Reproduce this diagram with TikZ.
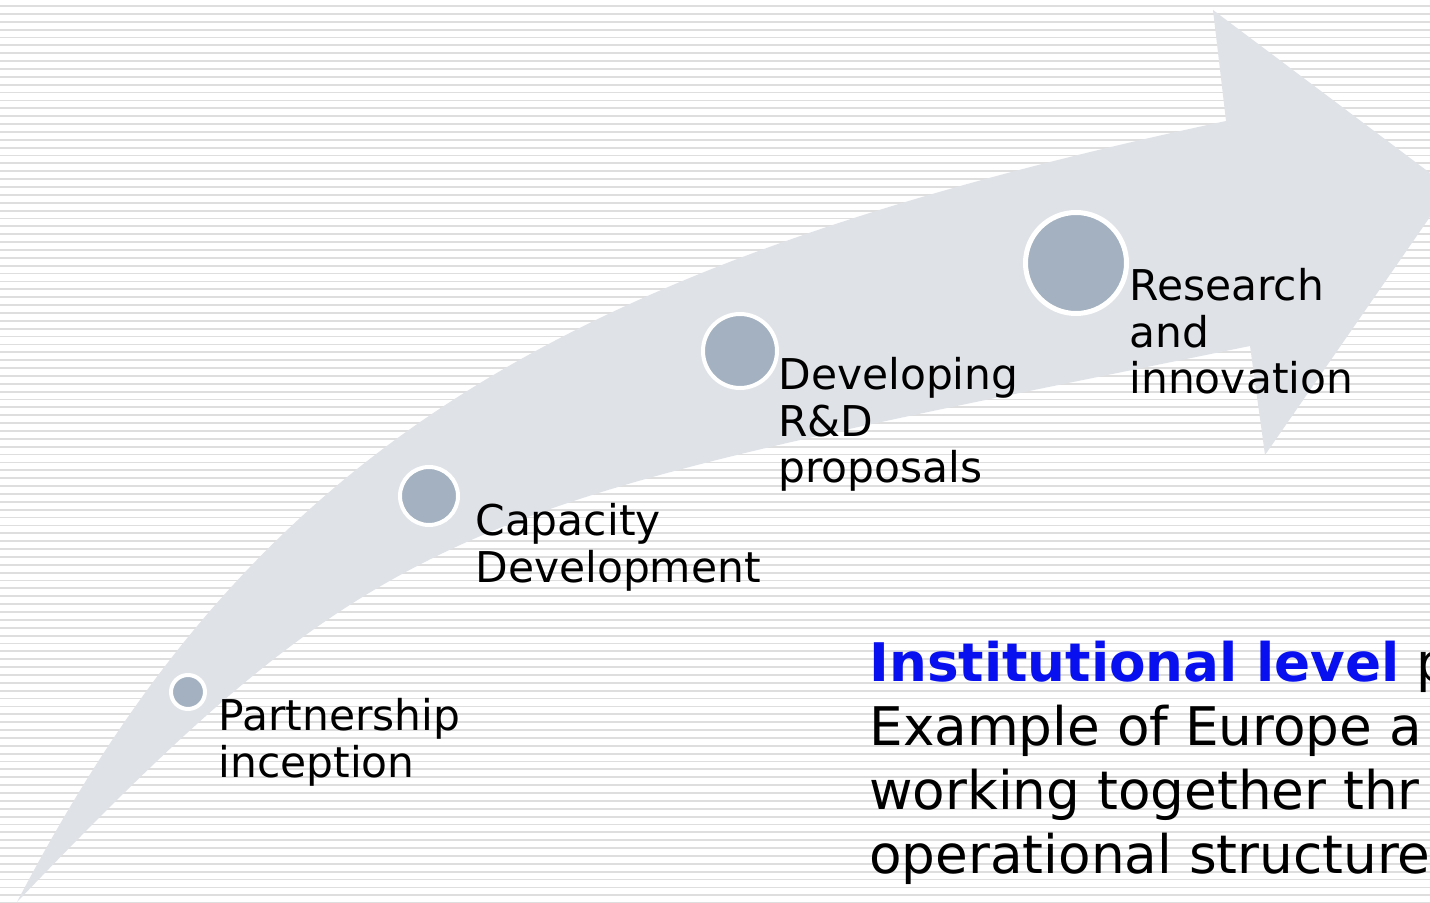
\documentclass[tikz,border=0pt]{standalone}
\usepackage{fontspec}
\setmainfont{DejaVu Sans}
\definecolor{nen}{RGB}{223,226,231}
\definecolor{cham}{RGB}{163,177,192}
\definecolor{soc}{RGB}{222,222,222}
\definecolor{xanh}{RGB}{8,16,240}
\begin{document}
\begin{tikzpicture}[x=0.5pt,y=-0.5pt,
  diem/.style={circle,fill=cham,draw=white,line width=2pt,inner sep=0pt},
  nhan/.style={anchor=base west,align=left,inner sep=0pt,font=\fontsize{21.2}{23.3}\selectfont}]
\useasboundingbox (0,0) rectangle (1430,903);
\clip (0,0) rectangle (1430,903);
\fill[white] (0,0) rectangle (1430,903);
\foreach \i in {0,...,114}
{
\draw[soc,line width=0.9pt] (0,{6+7.87*\i})--(1430,{6+7.87*\i});
}
% mui ten cong
\fill[nen] (17,902) .. controls (247,462) and (540,268) .. (1226,121)
  --(1213,10)--(1450,188)--(1265,455)--(1250,346)
  .. controls (466,506) and (396,506) .. (17,902)--cycle;
% cac buoc
\node[diem,minimum size=17pt] (A) at (188,692) {};
\node[diem,minimum size=29pt] (B) at (429,496) {};
\node[diem,minimum size=37pt] (C) at (740,351) {};
\node[diem,minimum size=50.5pt,line width=2.5pt] (D) at (1076,263) {};
\node[nhan] (a) at (218,777) {Partnership\\inception};
\node[nhan] (b) at (475,582) {Capacity\\Development};
\node[nhan] (c) at (778,483) {Developing\\R\&D\\proposals};
\node[nhan] (d) at (1129,394) {Research\\and\\innovation};
\node[anchor=base west,align=left,inner sep=0pt,font=\fontsize{26.6}{31.85}\selectfont] (e) at (869,873)
  {\textcolor{xanh}{\textbf{Institutional level}} p\\Example of Europe a\\working together thr\\operational structure};
\end{tikzpicture}
\end{document}
